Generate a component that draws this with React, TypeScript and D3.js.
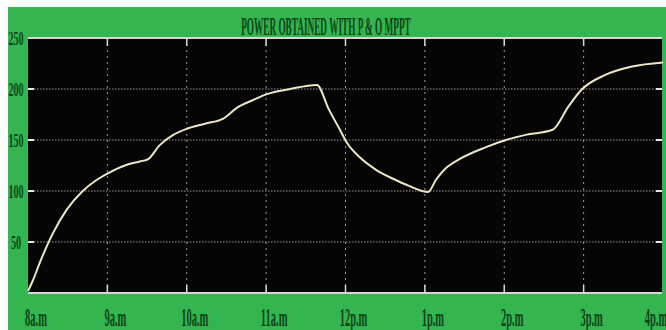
import React from "react";
import * as d3 from "d3";

const hours = [8.0, 8.06, 8.15, 8.31, 8.49, 8.69, 8.85, 9.0, 9.22, 9.41, 9.51, 9.66, 9.83, 10.0, 10.23, 10.46, 10.64, 10.83, 11.01, 11.3, 11.64, 11.79, 11.93, 12.02, 12.18, 12.38, 12.6, 12.8, 13.04, 13.14, 13.26, 13.43, 13.77, 14.02, 14.27, 14.61, 14.81, 14.97, 15.28, 15.61, 16.0];
const power = [2, 12, 30, 58, 82, 100, 110, 117, 125, 129, 131, 145, 155, 161, 166, 171, 182, 189, 195, 200, 204, 180, 160, 147, 133, 121, 112, 105, 99, 111, 122, 131, 143, 150, 155, 160, 183, 199, 214, 222, 226];
const xTickHours = [8, 9, 10, 11, 12, 13, 14, 15, 16];
const xTickLabels = ["8a.m", "9a.m", "10a.m", "11a.m", "12p.m", "1p.m", "2p.m", "3p.m", "4p.m"];
const yTicks = [50, 100, 150, 200, 250];
const title = "POWER OBTAINED WITH P & O MPPT";

const W = 666, H = 330;
const L = 28, R = 662, T = 38, B = 293;

export default function App() {
  const x = d3.scaleLinear().domain([8, 16]).range([L, R + 1]);
  const y = d3.scaleLinear().domain([0, 250]).range([B, T]);
  const pts: [number, number][] = hours.map((h, i) => [h, power[i]]);
  const line = d3.line<[number, number]>().x(d => x(d[0])).y(d => y(d[1])).curve(d3.curveMonotoneX);
  const green = "#34b550";
  const labelColor = "#0d4418";
  const grid = "#bdbdbd";
  return (
    <svg width={W} height={H} style={{ position: "fixed", left: 0, top: 0 }}>
      <rect x={0} y={0} width={W} height={H} fill="#ffffff" />
      <rect x={8} y={7} width={W - 8} height={H - 7} fill={green} />
      <rect x={L} y={T} width={R - L} height={B - T} fill="#050505" />
      {yTicks.filter(v => v < 250).map(v => (
        <g key={"h" + v}>
          <line x1={L} x2={R} y1={y(v)} y2={y(v)} stroke={grid} strokeWidth={1.2} strokeDasharray="1.5 1.5" opacity={0.8} />
          <line x1={L} x2={L + 6} y1={y(v)} y2={y(v)} stroke="#e6e6e6" strokeWidth={2} />
          <line x1={R - 6} x2={R} y1={y(v)} y2={y(v)} stroke="#e6e6e6" strokeWidth={2} />
        </g>
      ))}
      {xTickHours.slice(1, -1).map(h => (
        <g key={"v" + h}>
          <line x1={x(h)} x2={x(h)} y1={T} y2={B} stroke={grid} strokeWidth={1} strokeDasharray="2 4" opacity={0.8} />
          <line x1={x(h)} x2={x(h)} y1={T} y2={T + 8} stroke="#d8d8d8" strokeWidth={1.5} />
          <line x1={x(h)} x2={x(h)} y1={B - 8} y2={B} stroke="#d8d8d8" strokeWidth={1.5} />
        </g>
      ))}
      <line x1={L} x2={R} y1={T} y2={T} stroke="#d6d6d6" strokeWidth={2} />
      <line x1={L} x2={R} y1={B} y2={B} stroke="#d6d6d6" strokeWidth={2} />
      <path d={line(pts) || ""} fill="none" stroke="#ece6c4" strokeWidth={2} />
      <text transform="translate(326,35) scale(0.37,1)" textAnchor="middle" fontFamily="Liberation Serif" fontWeight="bold" fontSize={25} fill={labelColor}>{title}</text>
      {yTicks.map(v => (
        <text key={"yl" + v} transform={`translate(16,${y(v) + 6.5}) scale(0.53,1)`} textAnchor="middle" fontFamily="Liberation Serif" fontWeight="bold" fontSize={19} fill={labelColor}>{v}</text>
      ))}
      {xTickHours.map((h, i) => (
        <text key={"xl" + h} transform={`translate(${Math.min(x(h) + 8, 656)},${326}) scale(0.42,1)`} textAnchor="middle" fontFamily="Liberation Serif" fontWeight="bold" fontSize={25} fill={labelColor}>{xTickLabels[i]}</text>
      ))}
    </svg>
  );
}
